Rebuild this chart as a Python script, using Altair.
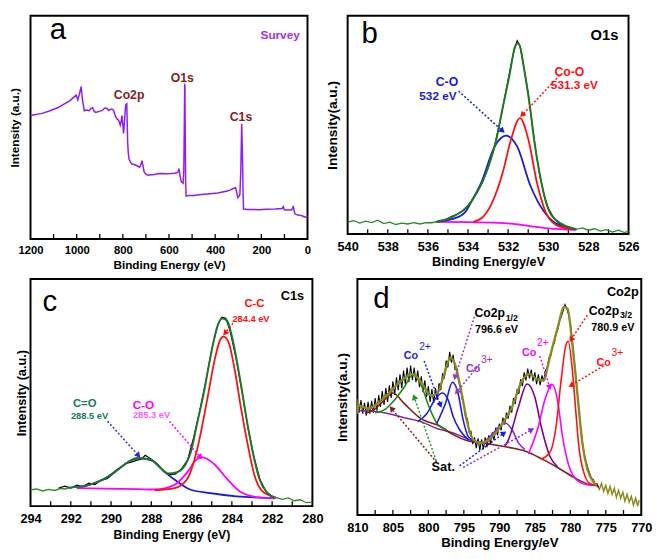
import math
import altair as alt
import pandas as pd

FONT = "Liberation Sans"

# ---------------- panel a : survey ----------------
A_SURVEY = [(1200,127.7),(1150,130),(1115,132.7),(1080,136),(1059,139),(1030,143),(1016,146),(1002,149),(995,144),(988,150),(981,157.7),(974,142.7),(967,132.7),(957,133.5),(946,132.7),(938,135),(931,136),(924,132),(917,131),(903,132),(889,133),(878,135.5),(868,135),(861,133),(854,134),(847,134.5),(840,133),(835,129),(830,126),(824,124),(818,122.7),(814,120),(811,117.7),(807,122),(804,127.7),(800,118),(797,109.3),(795,114),(793,121),(790,132),(787,139.3),(783,140),(781,120),(779,99.3),(776,88),(773,82.7),(768,80),(762,77.7),(752,77),(741,76),(733,75),(727,74.3),(722,77),(717,81),(713,76),(708,69.3),(700,67),(691,66),(680,66.5),(663,66.7),(650,67.5),(635,67.7),(615,67.5),(592,67.7),(575,68),(564,68.7),(560,70),(557,72.7),(552,65),(547,59.3),(539,57.7),(536,70),(534,110),(532,159.3),(531,159),(530,120),(528,60),(526,44.3),(515,45),(493,45),(460,46),(423,46.7),(390,47.5),(352,49.3),(335,50.5),(324,52),(312,53),(307,49),(302,42.7),(297,44),(293,46),(289,70),(285,119.3),(283,100),(281,76),(279,45),(277,31),(260,30.5),(240,30.5),(211,30.3),(180,30.8),(140,31),(110,31.5),(105,33.3),(101,30.5),(98,30),(80,30),(69,30),(64,32),(62,34.3),(59,31),(55,26),(45,25),(35,24.5),(27,24.3),(20,23.5),(13,22.7),(0,22.7)]
A_TICKS = [1100,1000,900,800,700,600,500,400,300,200,100]
A_LABELS = [1200,1000,800,600,400,200,0]

# ---------------- panel b : O1s ----------------
B_RAW_L = [(540,12.5),(539.7,14),(539.4,11.5),(539.1,13.5),(538.8,12),(538.5,14.5),(538.2,11),(537.9,12.5),(537.6,10),(537.3,11.5),(537.0,10.5),(536.7,12),(536.4,10.5),(536.1,12),(535.8,11.8),(535.6,12.7)]
B_RAW_R = [(528.6,5),(528.3,6.5),(528.0,4),(527.7,5.5),(527.4,3),(527.1,4.5),(526.8,2),(526.5,4),(526.2,1.5),(526.0,3)]
B_BLACK = [(535.5,13.5),(535.1,15.5),(534.8,18.5),(534.5,21),(534.2,25),(533.9,32),(533.6,42),(533.3,53),(533.0,69),(532.7,90),(532.4,118),(532.1,150),(531.9,172),(531.7,192),(531.55,202),(531.4,196),(531.2,172),(531.0,147),(530.8,114),(530.6,84),(530.4,59),(530.2,40),(530.0,27),(529.7,16),(529.4,10),(529.0,7),(528.7,5.5)]
B_ENV = [(535.6,12.7),(534.8,17.7),(533.8,35),(533.09,64.3),(532.6,97.7),(532.28,131),(531.95,164.3),(531.62,197.7),(531.5,199.3),(531.14,164.3),(530.9,131),(530.7,97.7),(530.44,64.3),(530.08,31),(529.6,14.3),(528.6,5)]
B_BLUE = [(535.6,12.7),(534.8,15.5),(534.15,22.7),(533.8,35),(533.33,54.3),(532.68,91),(532.11,102.7),(531.54,91),(530.9,51),(530.24,24.3),(529.6,11),(528.6,5)]
B_RED = [(533.74,12.7),(533.3,17),(532.84,31),(532.27,64.3),(531.87,97.7),(531.41,121),(530.98,97.7),(530.57,54.3),(530.16,24.3),(529.6,9.3),(528.8,5)]
B_MAG = [(535.6,12.7),(534.0,12.5),(532.5,11.7),(531.5,10.0),(530.9,8.3),(530.0,6.0),(528.6,4.3)]
B_TICKS = [539,538,537,536,535,534,533,532,531,530,529,528,527]
B_LABELS = [540,538,536,534,532,530,528,526]

# ---------------- panel c : C1s ----------------
C_RAW_L = [(294,16.5),(293.7,17.5),(293.4,15.5),(293.1,17),(292.8,16),(292.5,18),(292.2,17.5)]
C_RAW_R = [(281.83,9),(281.5,7),(281.2,8.5),(280.9,5.5),(280.6,6.5),(280.3,3.5),(280,4)]
C_BLACK = [(292.6,18.5),(292.3,20.5),(292.0,18.5),(291.7,21.5),(291.4,20),(291.1,23.5),(290.8,22),(290.5,26.5),(290.2,28),(289.9,33),(289.6,38),(289.3,43.5),(289.0,45),(288.7,47),(288.5,48),(288.3,52),(288.0,48),(287.7,43),(287.4,36),(287.1,32),(286.8,33),(286.5,38),(286.2,47),(285.9,70),(285.6,97),(285.3,127),(285.0,160),(284.7,185),(284.5,193),(284.3,192),(284.1,180),(283.8,152),(283.5,118),(283.2,80),(282.9,50),(282.6,27),(282.3,15),(282.0,10)]
C_ENV = [(292.2,18.5),(291.9,19.3),(291.1,21.7),(290.3,28.3),(289.6,38.3),(289.0,46.7),(288.5,49),(288.0,47.3),(287.5,38.3),(287.18,33.3),(286.69,35),(286.28,43.3),(286.04,55),(285.72,85),(285.4,115),(285.07,151.7),(284.75,181.7),(284.5,191.7),(284.26,190),(283.94,168.3),(283.61,131.7),(283.29,91.7),(282.96,55),(282.64,28.3),(282.24,13.3),(281.83,8.3)]
C_RED = [(287.83,16),(286.85,18.3),(286.2,28.3),(285.72,58.3),(285.23,108.3),(284.83,151.7),(284.58,170),(284.42,173.3),(284.18,168.3),(283.85,138.3),(283.53,98.3),(283.2,61.7),(282.88,31.7),(282.48,15),(281.83,9)]
C_BLUE = [(291.7,18.3),(290.3,28.3),(289.5,40),(288.7,49),(288.0,46.7),(287.35,35),(286.7,25),(286.04,16.7),(285.07,13.3),(283.77,10),(282.15,8.3),(281.85,8)]
C_MAG = [(291.7,18.3),(288.7,17.3),(287.83,17),(286.85,21.7),(286.2,35),(285.8,46.7),(285.48,50),(284.9,43.3),(284.26,28.3),(283.6,15),(282.64,9),(281.83,8.3)]
C_TICKS = [293,292,291,290,289,288,287,286,285,284,283,282,281]
C_LABELS = [294,292,290,288,286,284,282,280]

# ---------------- panel d : Co2p ----------------
D_OLIVE_L = [(810,103),(809.9,118),(809.8,108),(809.6,112)]
D_OLIVE_R = [(776.25,30),(775.9,26),(775.6,32),(775.3,24),(775.0,30),(774.7,22),(774.4,29),(774.1,21),(773.8,27),(773.5,18),(773.2,25),(772.9,17),(772.6,23),(772.3,14),(772.0,21),(771.7,13),(771.4,19),(771.1,10),(770.8,17),(770.5,9),(770.3,15)]
D_BLACK = [(809.75,104),(809.5,117),(809.25,103),(809,114),(808.75,101),(808.5,115),(808.25,103),(808,116),(807.75,104),(807.5,119),(807.25,106),(807,122),(806.75,110),(806.5,126),(806.25,112),(806,129),(805.75,115),(805.5,132),(805.25,119),(805,136),(804.75,122),(804.5,140),(804.25,127),(804,143),(803.75,129),(803.5,147),(803.25,133),(803,150),(802.75,135),(802.5,152),(802.25,137),(802,150),(801.75,135),(801.5,147),(801.25,130),(801,141),(800.75,125),(800.5,137),(800.25,120),(800,131),(799.75,115),(799.5,128),(799.25,114),(799,129),(798.75,117),(798.5,134),(798.25,127),(798,144),(797.75,139),(797.5,157),(797.25,150),(797,166),(796.75,155),(796.5,163),(796.25,148),(796,149),(795.75,137),(795.5,131),(795.25,118),(795,112),(794.75,99),(794.5,98),(794.25,84),(794,85),(793.75,72),(793.5,79),(793.25,68),(793,78),(792.75,66),(792.5,77),(792.25,67),(792,79),(791.75,69),(791.5,81),(791.25,72),(791,84),(790.75,76),(790.5,89),(790.25,81),(790,93),(789.75,86),(789.5,99),(789.25,92),(789,104),(788.75,98),(788.5,111),(788.25,104),(788,119),(787.75,113),(787.5,128),(787.25,123),(787,138),(786.75,131),(786.5,145),(786.25,137),(786,149),(785.75,139),(785.5,148),(785.25,136),(785,145),(784.75,133),(784.5,143),(784.25,132),(784,142),(783.75,136),(783.5,147),(783.25,150),(783,160),(782.75,162),(782.5,172),(782.25,175),(782,184),(781.75,189),(781.5,198),(781.25,202),(781,208),(780.75,214),(780.5,210),(780.25,204),(780,195),(779.75,180),(779.5,162),(779.25,143),(779,124),(778.75,104),(778.5,86),(778.25,72),(778,60),(777.75,53),(777.5,47),(777.25,42),(777,37),(776.75,36),(776.5,31),(776.25,32),(776,28)]
D_ENV = [(809.8,111.7),(808.4,108.3),(806.1,120),(803.8,136.7),(802.2,143.3),(800.85,133.3),(799.7,121.7),(798.8,123.3),(797.9,140),(796.9,160),(796.25,153.3),(795.3,123.3),(794.6,96.7),(793.7,76.7),(792.6,73.3),(791.4,76.7),(790.0,88.3),(788.2,110),(786.8,136.7),(785.7,143.3),(784.8,138.3),(783.8,136.7),(782.9,160),(781.8,190),(780.85,211.7),(780.4,210),(779.7,173.3),(779.0,123.3),(778.3,73.3),(777.6,46.7),(776.7,33.3),(776.25,30)]
D_BASE_P = [(809.9,106),(808.9,106),(805.7,103.3),(803.4,99),(801.1,95),(798.8,88),(796.5,83.3),(795,79),(793.7,75)]
D_MAROON = [(808.9,103.3),(807.5,108),(806.2,117),(805.0,124),(803.4,113.3),(801.1,98.3),(798.3,90),(796.5,81.7),(794.2,75),(792.3,73.5),(791,71.7),(788.5,68.5),(786.4,65),(784,57),(781.8,48.3),(779.5,38.3),(777.2,30.7),(776.25,30)]
D_GREEN = [(807.5,104),(806,108),(804.8,116.7),(803.4,130),(802.2,142.7),(801.1,133.3),(799.9,110),(798.8,93.3),(797.4,86.7)]
D_BLUE1 = [(801.5,95),(800.2,103.3),(799.0,118.3),(798.0,124),(797.2,116.7),(796.5,100),(795.6,86.7),(794.4,76.7)]
D_BLUE2 = [(798.8,93.3),(797.6,113.3),(796.6,135),(795.8,123.3),(795.1,96.7),(794.4,80),(793.3,74)]
D_VIOLET = [(792.2,74),(791.0,82),(790.0,90),(789.1,93.3),(788.2,86.7),(787.3,73.3),(786.4,66.7)]
D_PURPLE = [(789.2,70),(788.7,76.7),(787.3,110),(786.1,133.3),(785.0,120),(784.1,90),(782.9,60),(781.8,49)]
D_MAG = [(785.9,62),(784.5,90),(783.6,116.7),(782.55,132.7),(781.8,116.7),(781.1,80),(780.2,50),(779.0,35),(777.6,30.7),(776.25,30)]
D_RED = [(784.1,57),(782.9,63.3),(782.0,90),(781.3,136.7),(780.6,173.3),(780.3,176.7),(779.7,146.7),(779.2,103.3),(778.8,70),(778.1,43.3),(777.2,31.7),(776.25,30)]
D_TICKS = [807.5,805,802.5,800,797.5,795,792.5,790,787.5,785,782.5,780,777.5,775,772.5]
D_LABELS = [810,805,800,795,790,785,780,775,770]


def axes(xtitle, xvals, xfs, xtfs, lpad, tpad, ytitle, ytfs, ytpad):
    xa = alt.Axis(title=xtitle, values=xvals, format="d", labelFont=FONT, labelFontSize=xfs,
                  labelFontWeight="bold", labelColor="black", titleFont=FONT, titleFontSize=xtfs,
                  titleFontWeight="bold", titleColor="black", ticks=False, tickSize=0, domain=False,
                  grid=False, labelPadding=lpad, titlePadding=tpad, labelFlush=False, labelOverlap=False)
    ya = alt.Axis(title=ytitle, labels=False, ticks=False, tickSize=0, domain=False, grid=False,
                  minExtent=0, maxExtent=0, titleFont=FONT, titleFontSize=ytfs, titleFontWeight="bold",
                  titleColor="black", titlePadding=ytpad)
    return xa, ya


def panel(xdom, ydom, W, H, ax, lines, texts, arrows, ticks):
    xa, ya = ax
    X = alt.X("x:Q", scale=alt.Scale(domain=xdom, nice=False, zero=False), axis=xa)
    Y = alt.Y("y:Q", scale=alt.Scale(domain=ydom, nice=False, zero=False), axis=ya)
    layers = []
    tdf = pd.DataFrame({"x": ticks})
    layers.append(alt.Chart(tdf).mark_rule(color="black", strokeWidth=1.3).encode(
        x=X, y=alt.value(H), y2=alt.value(H - 5)))
    for pts, color, width, interp in lines:
        df = pd.DataFrame(pts, columns=["x", "y"])
        layers.append(alt.Chart(df).mark_line(color=color, strokeWidth=width, interpolate=interp).encode(x=X, y=Y))
    sx = W / (xdom[1] - xdom[0])
    sy = H / (ydom[1] - ydom[0])
    for (x1, y1, x2, y2, color) in arrows:
        df = pd.DataFrame({"x": [x1], "y": [y1], "x2": [x2], "y2": [y2]})
        layers.append(alt.Chart(df).mark_rule(color=color, strokeWidth=1.5, strokeDash=[2, 2]).encode(
            x=X, y=Y, x2="x2:Q", y2="y2:Q"))
        dx = (x2 - x1) * sx
        dy = -(y2 - y1) * sy
        ang = math.degrees(math.atan2(dx, -dy)) % 360
        hdf = pd.DataFrame({"x": [x2], "y": [y2]})
        layers.append(alt.Chart(hdf).mark_point(shape="triangle-up", filled=True, size=45, color=color,
                                                opacity=1, angle=ang).encode(x=X, y=Y))
    for (x, y, s, color, size, weight, align) in texts:
        df = pd.DataFrame({"x": [x], "y": [y], "t": [s]})
        layers.append(alt.Chart(df).mark_text(font=FONT, fontSize=size, fontWeight=weight, color=color,
                                              align=align, baseline="middle").encode(x=X, y=Y, text="t:N"))
    return alt.layer(*layers).properties(width=W, height=H)


VIOLET = "#8c1cff"
DRED = "#8b1a1a"

pa = panel([1200, 0], [0, 231], 283, 228,
           axes("Binding Energy (eV)", A_LABELS, 11.5, 12, 6, 4, "Intensity (a.u.)", 12, 9),
           [(A_SURVEY, VIOLET, 1.5, "linear")],
           [(1081, 216, "a", "black", 30, "normal", "center"),
            (118.6, 211, "Survey", "#9b30ff", 12, "bold", "center"),
            (773, 148.7, "Co2p", DRED, 12.5, "bold", "center"),
            (542.7, 166, "O1s", DRED, 12.5, "bold", "center"),
            (288.2, 126, "C1s", DRED, 12.5, "bold", "center")],
           [], A_TICKS)

BLUE = "#1a1ad8"
RED = "#ff1010"
MAG = "#ff00ff"
GREEN_B = "#1f7a1f"

pb = panel([540, 526], [0, 228], 287, 223,
           axes("Binding Energy/eV", B_LABELS, 13, 13, 7, 2, "Intensity(a.u.)", 14, 8),
           [(B_RAW_L, "#2a8a2a", 1.3, "linear"), (B_RAW_R, "#2a8a2a", 1.3, "linear"),
            (B_BLACK, "black", 1.2, "linear"),
            (B_MAG, MAG, 1.8, "monotone"),
            (B_BLUE, BLUE, 1.8, "monotone"), (B_RED, RED, 1.8, "monotone"),
            (B_ENV, GREEN_B, 2.0, "monotone")],
           [(538.9, 209, "b", "black", 30, "normal", "center"),
            (527.2, 207.7, "O1s", "black", 15, "bold", "center"),
            (535.05, 159, "C-O", BLUE, 12.5, "bold", "center"),
            (535.5, 144, "532 eV", BLUE, 12, "bold", "center"),
            (528.95, 169.3, "Co-O", RED, 12.5, "bold", "center"),
            (528.7, 156, "531.3 eV", RED, 12, "bold", "center")],
           [(534.47, 149.3, 532.28, 107.7, BLUE), (529.43, 166, 531.3, 124.3, RED)],
           B_TICKS)

TEAL = "#137a64"
GREEN_C = "#1e7a28"

pc = panel([294, 280], [0, 232], 288, 232,
           axes("Binding Energy (eV)", C_LABELS, 13, 12.5, 6.5, 4, "Intensity (a.u.)", 13, 2.5),
           [(C_RAW_L, "#2a8a2a", 1.3, "linear"), (C_RAW_R, "#2a8a2a", 1.3, "linear"),
            (C_BLACK, "black", 1.2, "linear"),
            (C_BLUE, "#1a1ad8", 1.8, "monotone"), (C_MAG, MAG, 1.8, "monotone"),
            (C_RED, RED, 1.8, "monotone"),
            (C_ENV, GREEN_C, 2.0, "monotone")],
           [(293.04, 208.3, "c", "black", 30, "normal", "center"),
            (280.99, 215, "C1s", "black", 13, "bold", "center"),
            (282.88, 206, "C-C", RED, 11.5, "bold", "center"),
            (283.05, 191, "284.4 eV", RED, 9.5, "bold", "center"),
            (291.31, 104, "C=O", TEAL, 11.5, "bold", "center"),
            (291.07, 92.3, "288.5 eV", TEAL, 9.5, "bold", "center"),
            (288.39, 103.5, "C-O", MAG, 12, "bold", "center"),
            (287.99, 93.5, "285.3 eV", "#ff5cff", 9.5, "bold", "center")],
           [(290.17, 86.7, 288.64, 51.7, "#2a2ad0"), (287.1, 86.7, 285.56, 50, MAG),
            (283.94, 186.7, 284.34, 176.7, RED)],
           C_TICKS)

OLIVE = "#8a8a20"
PURP = "#800080"
VIO = "#9932cc"
MAROON = "#8b1a1a"
DBLUE = "#1a1ae6"

pd_ = panel([810, 770], [0, 240], 290, 241,
            axes("Binding Energy/eV", D_LABELS, 13, 13.5, 6.5, 2, "Intensity(a.u.)", 14, 8),
            [(D_OLIVE_L, OLIVE, 1.5, "linear"), (D_OLIVE_R, OLIVE, 1.5, "linear"),
             (D_BLACK, "black", 1.1, "linear"),
             (D_BASE_P, "#7d2e9e", 1.6, "monotone"),
             (D_MAROON, MAROON, 1.6, "monotone"),
             (D_GREEN, "#1a8a1a", 1.6, "monotone"),
             (D_BLUE1, DBLUE, 1.6, "monotone"), (D_BLUE2, DBLUE, 1.6, "monotone"),
             (D_VIOLET, "#8a2be2", 1.6, "monotone"), (D_PURPLE, PURP, 1.6, "monotone"),
             (D_MAG, MAG, 1.6, "monotone"), (D_RED, RED, 1.6, "monotone"),
             (D_ENV, OLIVE, 2.4, "monotone")],
            [(806.6, 220, "d", "black", 30, "normal", "center"),
             (772.6, 226.7, "Co2p", "black", 13, "bold", "center"),
             (793.5, 205, "Co2p", "black", 12.5, "bold", "left"),
             (789.1, 200.5, "1/2", "black", 9, "bold", "left"),
             (790.4, 188.3, "796.6 eV", "black", 11, "bold", "center"),
             (777.4, 207.5, "Co2p", "black", 12.5, "bold", "left"),
             (773.0, 203.3, "3/2", "black", 9, "bold", "left"),
             (774.0, 190.3, "780.9 eV", "black", 11, "bold", "center"),
             (802.45, 161.7, "Co", DBLUE, 11, "bold", "center"),
             (801.3, 171.2, "2+", DBLUE, 10.5, "normal", "left"),
             (793.7, 148.3, "Co", VIO, 11, "bold", "center"),
             (792.6, 157.8, "3+", VIO, 10.5, "normal", "left"),
             (785.8, 165, "Co", MAG, 11, "bold", "center"),
             (784.7, 174.5, "2+", MAG, 10.5, "normal", "left"),
             (775.3, 155, "Co", RED, 11, "bold", "center"),
             (774.2, 164.5, "3+", RED, 10.5, "normal", "left"),
             (797.9, 48.3, "Sat.", "black", 13, "bold", "center")],
            [(800.6, 156.7, 798.3, 111.7, DBLUE),
             (793.5, 201.7, 796.25, 140, VIO),
             (792.8, 153.3, 796.0, 125, VIO),
             (784.3, 161.7, 782.9, 130, MAG),
             (777.6, 203.3, 779.9, 178.3, RED),
             (775.3, 151.7, 779.9, 131.7, RED),
             (798.8, 53.3, 805.2, 108.3, MAROON),
             (798.9, 55, 802.0, 120, "#1a9a1a"),
             (795.6, 50, 789.35, 83.3, DBLUE),
             (795.1, 48.3, 785.45, 86.7, "#8a2be2")],
            D_TICKS)

row1 = alt.hconcat(pa, pb, spacing=13)
row2 = alt.hconcat(pc, pd_, spacing=11)
chart = alt.vconcat(row1, row2, spacing=6).configure_view(
    stroke="black", strokeWidth=2).properties(
    padding={"left": 0, "top": 0, "right": 0, "bottom": 0}, background="white")

chart.save("out.html", embed_options={"renderer": "svg", "actions": False})
